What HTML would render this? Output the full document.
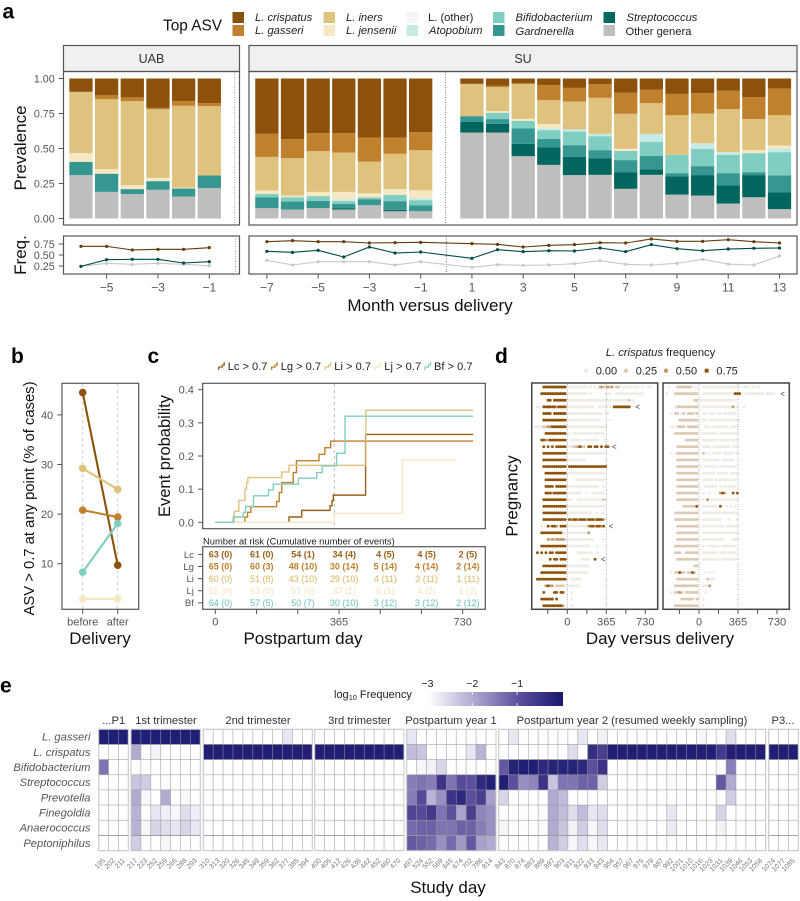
<!DOCTYPE html>
<html lang="en">
<head>
<meta charset="utf-8">
<title>Vaginal microbiome figure</title>
<style>
html,body{margin:0;padding:0;background:#fff;width:800px;height:901px;overflow:hidden}
svg{display:block;font-family:"Liberation Sans",sans-serif}
.frame{fill:none;stroke:#555;stroke-width:1.2}
.strip{fill:#f0f0f0;stroke:#555;stroke-width:1.2}
.tick{fill:#555}
.title{font-size:17px;fill:#111}
.letter{font-size:21px;font-weight:bold;fill:#000}
.leg{font-size:11.2px;fill:#222}
.it{font-style:italic}
.hf{fill:none;stroke:#c9c9c9;stroke-width:1}
.hs{font-size:11.2px;fill:#333}
.hr{font-size:11.2px;fill:#555;font-style:italic;text-anchor:end}
</style>
</head>
<body>
<svg width="800" height="901" viewBox="0 0 800 901" xmlns="http://www.w3.org/2000/svg">
<defs>
<linearGradient id="heatGrad" x1="0" x2="1" y1="0" y2="0">
<stop offset="0" stop-color="#ffffff"/><stop offset=".33" stop-color="#b3aad2"/><stop offset=".67" stop-color="#5c4f9e"/><stop offset="1" stop-color="#191970"/>
</linearGradient>
</defs>

<!-- Panel a -->
<text class="letter" x="2.5" y="18.5">a</text>
<g>
<text x="163" y="30.5" font-size="15.4" fill="#111">Top ASV</text>
<rect x="232.5" y="12" width="11.5" height="11" fill="#8c510a"/>
<rect x="232.5" y="25" width="11.5" height="11" fill="#bf812d"/>
<rect x="323.5" y="12" width="11.5" height="11" fill="#dfc27d"/>
<rect x="323.5" y="25" width="11.5" height="11" fill="#f6e8c3"/>
<rect x="406.5" y="12" width="11.5" height="11" fill="#f5f5f5"/>
<rect x="406.5" y="25" width="11.5" height="11" fill="#c7eae5"/>
<rect x="493" y="12" width="11.5" height="11" fill="#80cdc1"/>
<rect x="493" y="25" width="11.5" height="11" fill="#35978f"/>
<rect x="603.5" y="12" width="11.5" height="11" fill="#01665e"/>
<rect x="603.5" y="25" width="11.5" height="11" fill="#bebebe"/>
<text class="leg it" x="255" y="21">L. crispatus</text>
<text class="leg it" x="255" y="34">L. gasseri</text>
<text class="leg it" x="346" y="21">L. iners</text>
<text class="leg it" x="346" y="34">L. jensenii</text>
<text class="leg" x="428" y="21">L. (other)</text>
<text class="leg it" x="429" y="34">Atopobium</text>
<text class="leg it" x="515.5" y="21">Bifidobacterium</text>
<text class="leg it" x="515.5" y="35">Gardnerella</text>
<text class="leg it" x="626.5" y="21">Streptococcus</text>
<text class="leg" x="625.5" y="35">Other genera</text>
</g>
<rect class="strip" x="63.5" y="45.5" width="176" height="26"/>
<rect class="strip" x="249" y="45.5" width="548" height="26"/>
<text x="151.5" y="63" font-size="12.5" fill="#333" text-anchor="middle">UAB</text>
<text x="523" y="63" font-size="12.5" fill="#333" text-anchor="middle">SU</text>
<g id="aBars"></g>
<line x1="234.8" x2="234.8" y1="72" y2="225" stroke="#999" stroke-dasharray="1 1.5"/>
<line x1="445.7" x2="445.7" y1="72" y2="225" stroke="#777" stroke-dasharray="1 1.5"/>
<rect class="frame" x="63.5" y="71.5" width="176" height="153.5"/>
<rect class="frame" x="249" y="71.5" width="548" height="153.5"/>
<rect class="frame" x="63.5" y="236" width="176" height="38"/>
<rect class="frame" x="249" y="236" width="548" height="38"/>
<line x1="235.5" x2="235.5" y1="236" y2="274" stroke="#999" stroke-dasharray="1 1.5"/>
<line x1="446.3" x2="446.3" y1="236" y2="274" stroke="#777" stroke-dasharray="1 1.5"/>
<g id="aFreq"></g>
<g id="aAxes"></g>
<text class="title" transform="translate(26,148) rotate(-90)" text-anchor="middle">Prevalence</text>
<text class="title" transform="translate(26,255) rotate(-90)" text-anchor="middle">Freq.</text>
<text class="title" x="430" y="311" text-anchor="middle">Month versus delivery</text>

<!-- Panel b -->
<text class="letter" x="11" y="363">b</text>
<line x1="82.7" x2="82.7" y1="384" y2="609" stroke="#ccc" stroke-width="1" stroke-dasharray="3 3"/>
<line x1="117.7" x2="117.7" y1="384" y2="609" stroke="#ccc" stroke-width="1" stroke-dasharray="3 3"/>
<g id="bMarks"></g>
<rect class="frame" x="62" y="383.3" width="76.7" height="226"/>
<g id="bAxes"></g>
<text transform="translate(34,498.5) rotate(-90)" font-size="14.8" fill="#111" text-anchor="middle">ASV &gt; 0.7 at any point (% of cases)</text>
<text class="title" x="100" y="644" text-anchor="middle">Delivery</text>

<!-- Panel c -->
<text class="letter" x="147.5" y="363">c</text>
<g id="cLegend"></g>
<line x1="334.3" x2="334.3" y1="384" y2="528" stroke="#bbb" stroke-dasharray="3 3"/>
<g id="cCurves"></g>
<rect class="frame" x="202.7" y="383.3" width="282.6" height="145.4"/>
<g id="cAxes"></g>
<text transform="translate(170,456) rotate(-90)" font-size="16.5" fill="#111" text-anchor="middle">Event probability</text>
<text x="203" y="544.3" font-size="9.4" fill="#222">Number at risk (Cumulative number of events)</text>
<rect class="frame" x="202.7" y="546.7" width="282.6" height="62.6"/>
<g id="cTable"></g>
<text class="title" x="303" y="644" text-anchor="middle">Postpartum day</text>

<!-- Panel d -->
<text class="letter" x="495" y="363">d</text>
<text x="660.5" y="356" font-size="11.2" fill="#222" text-anchor="middle"><tspan font-style="italic">L. crispatus</tspan> frequency</text>
<g id="dLegend"></g>
<g id="dDots"></g>
<rect x="531.7" y="383" width="126" height="226.3" fill="none" stroke="#444" stroke-width="1.5"/>
<rect x="663" y="383" width="126.3" height="226.3" fill="none" stroke="#444" stroke-width="1.5"/>
<g id="dAxes"></g>
<text transform="translate(517.5,496) rotate(-90)" font-size="17" fill="#111" text-anchor="middle">Pregnancy</text>
<text class="title" x="660" y="644" text-anchor="middle">Day versus delivery</text>

<!-- Panel e -->
<text class="letter" x="0" y="692.5">e</text>
<text x="334" y="698" font-size="11" fill="#222">log<tspan font-size="7.3" dy="2">10</tspan><tspan dy="-2"> Frequency</tspan></text>
<rect x="428" y="692" width="135" height="14" fill="url(#heatGrad)"/>
<g id="eBar"></g>
<g id="eHeat"></g>
<text class="title" x="448" y="893" text-anchor="middle">Study day</text>
</svg>

<script>
// ---------- Panel a data ----------
const monthsUab = [-6,-5,-4,-3,-2,-1];
const monthsSu = [-7,-6,-5,-4,-3,-2,-1,1,2,3,4,5,6,7,8,9,10,11,12,13];
const taxaNames = ['other','strep','gard','bif','atop','jens','iners','gass','crisp'];
const taxaColors = ['#bebebe','#01665e','#35978f','#80cdc1','#c7eae5','#f6e8c3','#dfc27d','#bf812d','#8c510a'];
const uabOther = [.31,.19,.174,.205,.157,.217];
const uabStrep = [0,0,0,0,0,0];
const uabGard = [.095,.13,.036,.062,.057,.09];
const uabBif = [0,0,0,0,0,0];
const uabAtop = [0,0,0,0,0,0];
const uabJens = [.062,.032,.028,.023,.007,0];
const uabIners = [.438,.5,.6,.49,.584,.495];
const uabGass = [0,.028,.027,.01,.033,.022];
const uabCrisp = [.095,.12,.135,.21,.162,.176];
const suOther = [.074,.064,.074,.064,.095,.052,.052,.614,.614,.445,.383,.31,.312,.212,.312,.171,.164,.107,.152,.067];
const suStrep = [0,0,0,.01,0,.01,0,.076,.062,.088,.124,.13,.119,.119,.04,.131,.146,.131,.158,.121];
const suGard = [.076,.057,.052,.031,.043,.062,.043,.041,.034,.11,.062,.084,.057,.086,.096,.022,.064,.086,.021,.119];
const suBif = [.026,.031,.034,.019,.012,.045,.036,0,.045,.055,.062,.097,.1,.066,.1,.131,.124,.131,.136,.167];
const suAtop = [0,0,0,.012,0,0,.012,0,0,0,.014,.015,.017,0,.057,0,.04,.019,0,.026];
const suJens = [.024,.012,.03,.054,.03,.041,.059,0,.012,.014,.029,0,0,.015,0,0,0,0,.021,.021];
const suIners = [.24,.267,.291,.281,.227,.252,.286,.231,.171,.252,.171,.2,.257,.25,.219,.283,.212,.307,.222,.217];
const suGass = [.165,.136,.129,.139,.172,.117,.129,0,.012,0,.107,.097,.098,.152,.097,.152,.145,.131,.157,.191];
const suCrisp = [.395,.433,.39,.39,.421,.421,.383,.038,.05,.036,.048,.067,.04,.1,.079,.11,.105,.088,.133,.071];
const freqUabCrisp = [.697,.697,.614,.629,.629,.667];
const freqUabStrep = [.242,.394,.402,.402,.318,.348];
const freqUabOther = [.242,.31,.288,.31,.288,.258];
const freqSuCrisp = [.803,.826,.803,.803,.773,.78,.788,.758,.742,.682,.72,.735,.78,.773,.864,.81,.81,.848,.803,.773];
const freqSuStrep = [.583,.56,.606,.455,.682,.545,.568,.424,.621,.576,.598,.591,.659,.576,.735,.644,.598,.636,.652,.659];
const freqSuOther = [.379,.273,.348,.348,.348,.273,.348,.22,.28,.265,.273,.303,.371,.288,.273,.31,.402,.295,.273,.477];
const prevTicks = [0,.25,.5,.75,1];
const freqTicks = [.25,.5,.75];
const uabMonthTicks = [-5,-3,-1];
const suMonthTicks = [-7,-5,-3,-1,1,3,5,7,9,11,13];

// ---------- Panel b data ----------
const slopeNames = ['crispatus','gasseri','iners','jensenii','bifidobacterium'];
const slopeColors = ['#8c510a','#bf812d','#dfc27d','#f6e8c3','#80cdc1'];
const slopeBefore = [44.5,20.8,29.2,2.9,8.3];
const slopeAfter = [9.7,19.4,25,2.9,18.1];
const slopeTicks = [10,20,30,40];
const slopeCats = ['before','after'];

// ---------- Panel c data ----------
const curveNames = ['Lc','Lg','Li','Lj','Bf'];
const curveColors = ['#9b5f18','#bf812d','#dfc27d','#f6e8c3','#80cdc1'];
const lcDays = [226,265,352,358,362,461];
const lcProbs = [.016,.036,.05,.065,.082,.265];
const lgDays = [91,99,109,188,196,204,239,249,318,336,354];
const lgProbs = [.016,.03,.047,.063,.09,.12,.15,.186,.205,.225,.245];
const liDays = [58,72,91,96,100,204,226,462];
const liProbs = [.033,.066,.1,.12,.135,.152,.172,.338];
const ljDays = [365,574];
const ljProbs = [.027,.188];
const bfDays = [55,86,93,117,163,178,255,311,328,372,398];
const bfProbs = [.016,.03,.048,.08,.098,.115,.133,.15,.17,.208,.32];
const curveEnds = [791,791,791,738,791];
const probTicks = [0,.1,.2,.3,.4];
const riskLc = ['63 (0)','61 (0)','54 (1)','34 (4)','4 (5)','4 (5)','2 (5)'];
const riskLg = ['65 (0)','60 (3)','48 (10)','30 (14)','5 (14)','4 (14)','2 (14)'];
const riskLi = ['60 (0)','51 (8)','43 (10)','29 (10)','4 (11)','3 (11)','1 (11)'];
const riskLj = ['65 (0)','63 (0)','57 (0)','37 (1)','6 (1)','4 (2)','1 (2)'];
const riskBf = ['64 (0)','57 (5)','50 (7)','30 (10)','3 (12)','3 (12)','2 (12)'];
const riskTickDays = [0,121.7,243.3,365,486.7,608.3,730];
const riskLabels = ['0','','','365','','','730'];

// ---------- Panel d data: pre-delivery bins then post-delivery bins, 20 days each.
// '.' no sample; 0,1,2,3 = frequency near 0, .25, .5, .75
const dotLevelColors = ['#f0ebe4','#dcc9b2','#c59a68','#8f530c'];
const dotLevels = [0,.25,.5,.75];
const leftPre = ['.....33333333333','....333333333333','.......33.333333','..00.33333323333','.....3333.333333','.....33333333333','.000011223333333','......3333333333','....332233333333','.....3.3.3.33333','.....33333333333','.....33333333333','.....33333333333','......3333333333','......3333333333','......3333.33333','......3332333333','.....33333333333','.....33333333333','.....33333333333','.....33333333333','....0..31332.333','....333333333300','.......212122221','....333333333333','..3.3.3.33.33333','........3.33.333','.....33333333333','....333333333333','..33333333333333','......2322.11110','.....3....33.33.','....333333.3....','.....3333333332.'];
const leftPost = ['.000000000.0.0.1211212.11.00000.00.0..00','.000000000.0......000..0000000000000','.00000000000000000000000000001.0','.000000000000..000000033333333','.0000000000000000.00','.000000000000000....0','.000000000000000000','.0.000000000000000','..00000.0000000...0','.00112311.33.33.3.33','.000000000000000000','.00000000.........0','.333333333333333333','.00000000000000000','....00000000000000','.00000000000000..0','.000000..0..000000','.00..00000000000010','.00000000000000000','.00000000000..0..0','.32332333233323332','.00000000023323323','.0000000002','.000000000000....0','.0000000000...0','.....0000000..0','.......0000..3','.0000000000','.000000000','..00000','.00000','..0','..0','..0'];
const rightPre = ['..0...1111111.00','.0...11111111111','..............11','.....01111111111','...0.11.01.11101','.......111111111','...00.1111.11111','.....11111111111','..........111111','......1111111111','...0.01111111111','......1111111111','......1111111111','......1111111111','......1111111111','......1111111111','......1111111111','......1111111111','.........1111113','.....11111111111','.....11111111111','......1111111111','......1111111111','......1111111111','.....11111111111','.....111..111111','......1111111111','..............11','...0.11311.1131.','......1111111111','.....11111111111','...0.1121.111111','........111111.1','.....11111111111'];
const rightPost = ['..000000000000000000.000.00.0','..000000000000000333..000000000.0000','.00000000000000000','..000000000000002.0..0','..00.000.00.000000','..00.000000000000000','...000.0000000.0000','..0000000.000000000','..00000000000000000','..0000.00000000.000','..10.0.0000.00000.0','..00000000.000000','.0.000000.00000000','..000000.00000.0000','..00000.0000000000','...000000.0.000000','..0..0....232...3.3','..0.2.0000000000000','..0000000.3..0.0.0','..00000000000000000','..000000000...0...0','..0000000000.000000','..00000000000000000','..0000000000....000','..0.000000.0000000','..0000000.00000000','..00000000.0000000','','...0.0.0','....1000','..0002','...0','..0','..0'];
const leftMarkRows = [3,9,21,26];
const leftMarkDays = [658,440,409,337];
const rightMarkRows = [1];
const rightMarkDays = [783];
const dayTicks = [-183,0,183,365,548,730];
const dayTickLabels = ['','0','','365','','730'];

// ---------- Panel e data ----------
const n = null;
const heatRowNames = ['L. gasseri','L. crispatus','Bifidobacterium','Streptococcus','Prevotella','Finegoldia','Anaerococcus','Peptoniphilus'];
const facetTitles = ['...P1','1st trimester','2nd trimester','3rd trimester','Postpartum year 1','Postpartum year 2 (resumed weekly sampling)','P3...'];
const days0 = [195,202,211];
const days1 = [217,223,252,259,265,288,293];
const days2 = [310,313,320,326,345,349,359,362,377,385,394];
const days3 = [400,405,412,426,436,442,452,460,470];
const days4 = [497,524,552,569,645,674,702,786,814];
const days5 = [843,870,874,883,889,897,903,911,922,933,943,954,957,967,975,979,987,992,1001,1010,1016,1023,1031,1039,1046,1053,1058];
const days6 = [1074,1077,1085];
const heatGasseri = [-.1,-.1,-.1, -.1,-.1,-.1,-.1,-.1,-.1,-.1, n,n,n,n,n,n,n,n,-2.7,n,n, n,n,n,n,n,n,n,n,n, -2.7,n,n,n,n,n,n,n,n, n,-2.7,n,n,n,n,n,n,-2.7,n,-2.85,n,n,n,n,n,n,n,n,n,-2.9,n,n,-2.6,n,n,n, n,n,n];
const heatCrispatus = [n,n,n, -2,n,-2.85,n,n,n,n, -.1,-.1,-.1,-.1,-.1,-.1,-.1,-.1,-.1,-.1,-.1, -.1,-.1,-.1,-.1,-.1,-.1,-.1,-.1,-.1, -2.2,-2.3,n,n,n,n,-2.7,-2.1,n, n,n,n,n,n,n,n,-2.6,n,-.4,-.7,-.1,-.1,-.1,-.1,-.1,-.1,-.1,-.1,-.1,-.1,-.1,-.6,-.1,-.1,-.1,-.1, -.1,-.1,-.1];
const heatBifido = [-1.4,n,n, n,n,n,n,n,n,n, n,n,n,n,n,n,n,n,n,n,n, n,n,n,n,n,n,n,n,n, n,-2.9,-2.85,-2.5,n,n,n,n,n, -1.1,-.2,-.1,-.1,-.3,-.2,-.2,-.2,-.3,-1,-.5,n,n,n,n,n,n,n,n,n,n,n,n,-1.5,n,n,n, n,n,n];
const heatStrep = [n,n,n, -2.3,-2.4,n,-2.95,n,n,n, n,n,n,n,n,n,n,n,n,n,n, n,n,n,n,n,n,n,n,n, -1.5,-1.4,-1.5,-.5,-1.4,-.9,-1,-.3,-.15, -.1,-1,-1.7,-1.6,-.5,-2.3,-1.4,-1.4,-1.2,-1.2,-2.4,n,n,n,n,n,n,-2.95,n,n,n,n,-1.1,-2,n,n,n, n,n,n];
const heatPrevotella = [n,n,n, -2,-2.9,n,-2,n,-2.9,n, n,n,n,n,n,n,n,n,n,n,n, n,n,n,n,n,n,n,n,n, -1.5,-.9,-2.1,-1.7,-.5,-.3,-1,-.7,-1.9, -2.5,n,n,n,n,-2,-2.2,n,n,n,n,n,n,n,n,n,n,n,n,n,n,n,n,-2.4,n,n,n, n,n,n];
const heatFinegoldia = [n,n,n, -2.1,n,-2.7,-2.8,-2.9,-2.6,-2.8, n,n,n,n,n,n,n,n,n,n,n, n,n,n,n,n,n,n,n,n, -.8,-.9,-.6,-1.4,-1,-1.9,-.7,-1.6,-1.7, n,n,n,n,-2.95,-2,-2.2,-2.6,-2.2,-2.7,-2.6,n,n,n,n,n,n,-2.7,n,n,n,n,-2.5,n,n,n,n, n,n,n];
const heatAnaero = [-2.98,n,n, -2.1,-2.9,-2.5,-2.6,-2.7,-2.5,-2.7, n,n,n,n,n,n,n,n,n,n,n, n,n,n,n,n,n,n,n,n, -1.3,-1.2,-1.2,-1.4,-1.4,-1.2,-1.2,-1.5,-1.7, -2.9,n,n,n,-2.95,-2,-2.3,-2.85,-2.4,-2.9,-2.6,n,n,n,n,n,n,-2.75,n,n,n,n,-2.85,n,-2.98,n,n, n,n,n];
const heatPepto = [n,n,n, -2.4,n,n,-2.9,n,n,n, n,n,n,n,n,n,n,n,n,n,n, n,n,n,n,n,n,n,n,n, -1.1,-1.2,-1.3,-1.7,-1.3,-1.8,-1.1,-1.9,-2, n,n,n,n,n,-2.1,-2.4,-2.9,-2.6,-2.9,-2.7,n,n,n,n,n,n,n,n,n,n,n,n,n,n,n,n, n,n,n];
const colorbarTicks = [-3,-2,-1];

// ---------- helpers ----------
const NS = 'http://www.w3.org/2000/svg';
function add(parent, tag, attrs, txt) {
  const el = document.createElementNS(NS, tag);
  for (const k in attrs) el.setAttribute(k, attrs[k]);
  if (txt !== undefined) el.textContent = txt;
  parent.appendChild(el);
  return el;
}
const $ = id => document.getElementById(id);

// axis functions
const xUab = m => 209.3 + (m + 1) * 25.67;
const xSu = m => 446.3 + m * 25.63;
const yPrev = v => 218.5 - v * 140;
const yFreq = v => 277 - v * 44;
const yB = v => 613.3 - v * 4.96;
const xB = i => 82.7 + i * 35;
const xKm = d => 215.3 + d * 0.326;
const yKm = p => 522.3 - p * 331.5;
const xRisk = d => 215.3 + d * 0.3389;
const xDotL = d => 567.3 + d * 0.1068;
const xDotR = d => 699 + d * 0.1068;
const yDot = i => 387 + i * 6.627;

function xTick(parent, x, y, label, name, fontSize, offset) {
  const t = add(parent, 'line', {x1:x, x2:x, y1:y, y2:y+4.7, stroke:'#555', 'stroke-width':1});
  
  
  if (label !== '') {
    const l = add(parent, 'text', {x:x, y:y+(offset||16.3), class:'tick', 'font-size':fontSize||11, 'text-anchor':'middle'}, label);
    
    
  }
}
function yTick(parent, xAxis, y, label, name, fontSize) {
  const t = add(parent, 'line', {x1:xAxis-4.7, x2:xAxis, y1:y, y2:y, stroke:'#555', 'stroke-width':1});
  
  
  const fs = fontSize || 11;
  const l = add(parent, 'text', {x:xAxis-8.8, y:y+fs*0.36, class:'tick', 'font-size':fs, 'text-anchor':'end'}, label);
  
  
}

// ---------- draw panel a ----------
function drawBars(months, series, xFn, facet) {
  months.forEach((m, i) => {
    let cum = 0;
    series.forEach((s, k) => {
      const v = s[i];
      if (!v) return;
      const r = add($('aBars'), 'rect', {x:xFn(m)-11.65, y:yPrev(cum+v), width:23.3, height:yPrev(cum)-yPrev(cum+v), fill:taxaColors[k]});
      
      
      cum += v;
    });
  });
}
drawBars(monthsUab, [uabOther,uabStrep,uabGard,uabBif,uabAtop,uabJens,uabIners,uabGass,uabCrisp], xUab, 'uab');
drawBars(monthsSu, [suOther,suStrep,suGard,suBif,suAtop,suJens,suIners,suGass,suCrisp], xSu, 'su');

function drawFreq(months, vals, xFn, color, name) {
  const pts = months.map((m, i) => xFn(m) + ',' + yFreq(vals[i])).join(' ');
  const pl = add($('aFreq'), 'polyline', {points:pts, fill:'none', stroke:color, 'stroke-width':1.1});
  
  
  months.forEach((m, i) => {
    const c = add($('aFreq'), 'circle', {cx:xFn(m), cy:yFreq(vals[i]), r:1.6, fill:color});
    
    
  });
}
drawFreq(monthsUab, freqUabOther, xUab, '#c8c8c8', 'freq-uab-other');
drawFreq(monthsUab, freqUabStrep, xUab, '#024a44', 'freq-uab-streptococcus');
drawFreq(monthsUab, freqUabCrisp, xUab, '#643c0a', 'freq-uab-crispatus');
drawFreq(monthsSu, freqSuOther, xSu, '#c8c8c8', 'freq-su-other');
drawFreq(monthsSu, freqSuStrep, xSu, '#024a44', 'freq-su-streptococcus');
drawFreq(monthsSu, freqSuCrisp, xSu, '#643c0a', 'freq-su-crispatus');

prevTicks.forEach(v => yTick($('aAxes'), 63.5, yPrev(v), v.toFixed(2), 'prevalence-axis', 10.7));
freqTicks.forEach(v => yTick($('aAxes'), 63.5, yFreq(v), v.toFixed(2), 'freq-axis', 10.7));
const minus = v => v < 0 ? '\u2212' + (-v) : String(v);
uabMonthTicks.forEach(m => xTick($('aAxes'), xUab(m), 274, minus(m), 'month-axis-uab', 12, 17.5));
suMonthTicks.forEach(m => xTick($('aAxes'), xSu(m), 274, minus(m), 'month-axis-su', 12, 17.5));

// ---------- draw panel b ----------
slopeNames.forEach((nm, i) => {
  const ln = add($('bMarks'), 'line', {x1:xB(0), x2:xB(1), y1:yB(slopeBefore[i]), y2:yB(slopeAfter[i]), stroke:slopeColors[i], 'stroke-width':2.1});
  
  
  [slopeBefore[i], slopeAfter[i]].forEach((v, j) => {
    const c = add($('bMarks'), 'circle', {cx:xB(j), cy:yB(v), r:3.8, fill:slopeColors[i]});
    
    
  });
});
slopeTicks.forEach(v => yTick($('bAxes'), 62, yB(v), String(v), 'panel-b-y-axis'));
slopeCats.forEach((c, i) => xTick($('bAxes'), xB(i), 609.3, c, 'panel-b-x-axis'));

// ---------- draw panel c ----------
const curveDays = [lcDays, lgDays, liDays, ljDays, bfDays];
const curveProbs = [lcProbs, lgProbs, liProbs, ljProbs, bfProbs];
curveNames.forEach((nm, i) => {
  let d = 'M' + xKm(0) + ' ' + yKm(0);
  if (nm === 'Lc') d = 'M' + xKm(curveDays[i][0]) + ' ' + yKm(0);
  curveDays[i].forEach((day, j) => {
    d += 'H' + xKm(day) + 'V' + yKm(curveProbs[i][j]);
  });
  d += 'H' + xKm(curveEnds[i]);
  const p = add($('cCurves'), 'path', {d:d, fill:'none', stroke:curveColors[i], 'stroke-width':1.4});
  
  
});
probTicks.forEach(v => yTick($('cAxes'), 202.7, yKm(v), v.toFixed(1), 'probability-axis'));

const legendStarts = [227.7, 280.7, 334.3, 384.3, 434];
curveNames.forEach((nm, i) => {
  const sx = legendStarts[i];
  const k = add($('cLegend'), 'path', {d:'M'+(sx-9)+' 370V367H'+(sx-5.5)+'V365H'+(sx-3.5)+'V362', fill:'none', stroke:curveColors[i], 'stroke-width':1.3});
  
  
  const t = add($('cLegend'), 'text', {x:sx, y:370, 'font-size':11.1, fill:'#222'}, nm + ' > 0.7');
  
  
});

const riskRows = [riskLc, riskLg, riskLi, riskLj, riskBf];
const yRisk = i => 554.4 + i * 12.1;
riskRows.forEach((row, i) => {
  yTick($('cTable'), 202.7, yRisk(i), curveNames[i], 'risk-row', 9.5);
  row.forEach((txt, j) => {
    const t = add($('cTable'), 'text', {x:xRisk(riskTickDays[j])+5.2, y:yRisk(i)+3.2, 'font-size':9, 'text-anchor':'middle', fill:curveColors[i], 'font-weight':i<2?'bold':'normal', stroke:i<2?'none':curveColors[i], 'stroke-width':.15}, txt);
    
    
  });
});
riskTickDays.forEach((d, j) => xTick($('cTable'), xRisk(d), 609.3, riskLabels[j], 'postpartum-axis'));

// ---------- draw panel d ----------
dotLevels.forEach((lv, i) => {
  const xs = [586, 626, 666, 706.7];
  const c = add($('dLegend'), 'circle', {cx:xs[i], cy:370.7, r:2.2, fill:dotLevelColors[i]});
  
  
  const t = add($('dLegend'), 'text', {x:xs[i]+9.7, y:374.5, 'font-size':11, fill:'#222'}, lv.toFixed(2));
  
  
});
function drawDots(pre, post, xFn, side) {
  pre.forEach((s, i) => {
    const all = [];
    for (let j = 0; j < s.length; j++) all.push([(j - s.length) * 20, s[j]]);
    for (let j = 0; j < post[i].length; j++) all.push([j * 20, post[i][j]]);
    all.sort((a, b) => (a[1] === '.' ? 0 : +a[1]) - (b[1] === '.' ? 0 : +b[1]));
    all.forEach(a => {
      if (a[1] === '.') return;
      const c = add($('dDots'), 'circle', {cx:xFn(a[0]), cy:yDot(i), r:1.45, fill:dotLevelColors[+a[1]]});
      
      
    });
  });
}
drawDots(leftPre, leftPost, xDotL, 'left');
drawDots(rightPre, rightPost, xDotR, 'right');
[0, 365].forEach(d => {
  [xDotL, xDotR].forEach(f => {
    const l = add($('dDots'), 'line', {x1:f(d), x2:f(d), y1:384, y2:609, stroke:'#999', 'stroke-width':.8, 'stroke-dasharray':'1 1.5'});
    
    
  });
});
function drawMarks(rows, days, xFn) {
  rows.forEach((r, i) => {
    const t = add($('dDots'), 'text', {x:xFn(days[i]), y:yDot(r)+2.8, 'font-size':8, fill:'#333', 'text-anchor':'middle'}, '<');
    
    
  });
}
drawMarks(leftMarkRows, leftMarkDays, xDotL);
drawMarks(rightMarkRows, rightMarkDays, xDotR);
dayTicks.forEach((d, i) => {
  xTick($('dAxes'), xDotL(d), 609.3, dayTickLabels[i], 'day-axis-left');
  xTick($('dAxes'), xDotR(d), 609.3, dayTickLabels[i], 'day-axis-right');
});

// ---------- draw panel e ----------
const heatRows = [heatGasseri, heatCrispatus, heatBifido, heatStrep, heatPrevotella, heatFinegoldia, heatAnaero, heatPepto];
const facetDays = [days0, days1, days2, days3, days4, days5, days6];
const facetLeft = [98.7, 131, 203.3, 314.7, 406.7, 498.7, 768.7];
const facetRight = [128.3, 200.3, 312.3, 404, 496, 765.7, 798.3];
const facetCenter = [113.7, 166, 258, 359.5, 451, 632, 783];
const yHeat = r => 729.3 + r * 15.17;
const heatStops = [[255,255,255],[179,170,210],[92,79,158],[25,25,112]];
function heatColor(v) {
  const t = Math.max(0, Math.min(1, (v + 3) / 3)) * 3;
  const i = Math.min(2, Math.floor(t));
  const f = t - i;
  const c = heatStops[i].map((a, k) => Math.round(a + (heatStops[i + 1][k] - a) * f));
  return 'rgb(' + c.join(',') + ')';
}
heatRowNames.forEach((nm, r) => {
  const t = add($('eHeat'), 'text', {x:90.5, y:yHeat(r)+11.3, class:'hr'}, nm);
  
  
});
let colIndex = 0;
facetDays.forEach((days, f) => {
  const w = (facetRight[f] - facetLeft[f]) / days.length;
  const title = add($('eHeat'), 'text', {x:facetCenter[f], y:724, class:'hs', 'text-anchor':'middle'}, facetTitles[f]);
  
  
  days.forEach((d, c) => {
    const x = facetLeft[f] + c * w;
    heatRows.forEach((row, r) => {
      const v = row[colIndex + c];
      const cell = add($('eHeat'), 'rect', {x:x, y:yHeat(r), width:w, height:15.17, fill:v === null ? '#fff' : heatColor(v), stroke:'rgba(150,150,150,.5)', 'stroke-width':.8});
      
      
    });
    const lx = x + w / 2 + 2;
    const lab = add($('eHeat'), 'text', {x:lx, y:861, 'font-size':7, fill:'#777', 'text-anchor':'end', transform:'rotate(-45 ' + lx + ' 861)'}, d);
    
    
  });
  const sep = add($('eHeat'), 'line', {x1:facetLeft[f], x2:facetRight[f], y1:yHeat(7), y2:yHeat(7), stroke:'#999', 'stroke-width':.7});
  
  
  const fr = add($('eHeat'), 'rect', {x:facetLeft[f], y:yHeat(0), width:facetRight[f]-facetLeft[f], height:121.4, class:'hf'});
  
  
  colIndex += days.length;
});
const xBar = v => 427.5 + (v + 3) * 44.8;
colorbarTicks.forEach(v => {
  if (v > -3) {
    const a = add($('eBar'), 'line', {x1:xBar(v), x2:xBar(v), y1:692, y2:695, stroke:'#fff', 'stroke-width':.8});
    
    
    const b = add($('eBar'), 'line', {x1:xBar(v), x2:xBar(v), y1:703, y2:706, stroke:'#fff', 'stroke-width':.8});
    
    
  }
  const t = add($('eBar'), 'text', {x:xBar(v), y:687, 'font-size':10.5, fill:'#222', 'text-anchor':'middle'}, minus(v));
  
  
});
</script>
</body>
</html>
